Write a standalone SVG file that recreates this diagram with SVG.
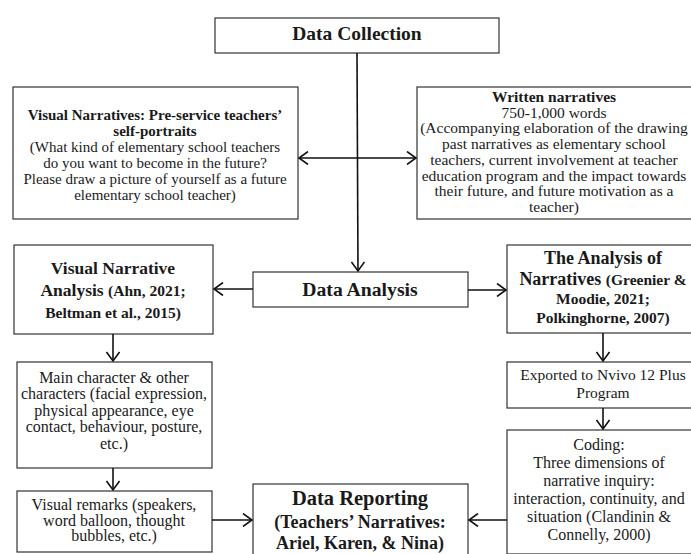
<svg xmlns="http://www.w3.org/2000/svg" width="691" height="554" viewBox="0 0 691 554">
<style>
.box{fill:#fff;stroke:#333;stroke-width:1.2}
.t{font-family:"Liberation Serif","DejaVu Serif",serif;font-size:15px;fill:#1a1a1a;text-anchor:middle}
.b{font-weight:bold}
.c{fill:none;stroke:#111;stroke-width:1.6}
</style>
<defs>
<marker id="ah" markerUnits="userSpaceOnUse" markerWidth="14" markerHeight="14" viewBox="0 0 14 14" refX="12" refY="7" orient="auto-start-reverse">
<path d="M3,0.5 L12,7 L3,13.5" fill="none" stroke="#111" stroke-width="1.6"/>
</marker>
</defs>
<rect width="691" height="554" fill="#fff"/>
<g id="data-collection">
<rect class="box" x="215" y="18" width="284" height="35"/>
<text class="t b" x="357" y="40" style="font-size:19.5px">Data Collection</text>
</g>
<g id="visual-narratives">
<rect class="box" x="13" y="87" width="285" height="132"/>
<text class="t" x="155" y="120"><tspan class="b">Visual Narratives: Pre-service teachers’</tspan><tspan class="b" x="155" dy="16">self-portraits</tspan><tspan x="155" dy="16">(What kind of elementary school teachers</tspan><tspan x="155" dy="16">do you want to become in the future?</tspan><tspan x="155" dy="16">Please draw a picture of yourself as a future</tspan><tspan x="155" dy="16">elementary school teacher)</tspan></text>
</g>
<g id="written-narratives">
<rect class="box" x="417" y="87" width="276" height="132"/>
<text class="t" x="554" y="102" style="font-size:15.5px"><tspan class="b">Written narratives</tspan><tspan x="554" dy="15.7">750-1,000 words</tspan><tspan x="554" dy="15.7">(Accompanying elaboration of the drawing</tspan><tspan x="554" dy="15.7">past narratives as elementary school</tspan><tspan x="554" dy="15.7">teachers, current involvement at teacher</tspan><tspan x="554" dy="15.7">education program and the impact towards</tspan><tspan x="554" dy="15.7">their future, and future motivation as a</tspan><tspan x="554" dy="15.7">teacher)</tspan></text>
</g>
<g id="data-analysis">
<rect class="box" x="253" y="272" width="215" height="35"/>
<text class="t b" x="360" y="296" style="font-size:19.7px">Data Analysis</text>
</g>
<g id="visual-narrative-analysis">
<rect class="box" x="14" y="245" width="199" height="89"/>
<text class="t b" x="113" y="274" style="font-size:17.5px"><tspan>Visual Narrative</tspan><tspan x="113" dy="22">Analysis <tspan style="font-size:15.5px">(Ahn, 2021;</tspan></tspan><tspan x="113" dy="22" style="font-size:15.5px">Beltman et al., 2015)</tspan></text>
</g>
<g id="analysis-of-narratives">
<rect class="box" x="507" y="245" width="192" height="88"/>
<text class="t b" x="603" y="264" style="font-size:18px"><tspan>The Analysis of</tspan><tspan x="603" dy="21">Narratives <tspan style="font-size:15.5px">(Greenier &amp;</tspan></tspan><tspan x="603" dy="19" style="font-size:15.5px">Moodie, 2021;</tspan><tspan x="603" dy="19" style="font-size:15.5px">Polkinghorne, 2007)</tspan></text>
</g>
<g id="main-character">
<rect class="box" x="17" y="362" width="195" height="106"/>
<text class="t" x="114" y="383" style="font-size:16px"><tspan>Main character &amp; other</tspan><tspan x="114" dy="16.4">characters (facial expression,</tspan><tspan x="114" dy="16.4">physical appearance, eye</tspan><tspan x="114" dy="16.4">contact, behaviour, posture,</tspan><tspan x="114" dy="16.4">etc.)</tspan></text>
</g>
<g id="visual-remarks">
<rect class="box" x="17" y="491" width="195" height="61"/>
<text class="t" x="114" y="510" style="font-size:16px"><tspan>Visual remarks (speakers,</tspan><tspan x="114" dy="15.7">word balloon, thought</tspan><tspan x="114" dy="15.7">bubbles, etc.)</tspan></text>
</g>
<g id="exported">
<rect class="box" x="507" y="362" width="190" height="46"/>
<text class="t" x="603" y="380" style="font-size:15.5px"><tspan>Exported to Nvivo 12 Plus</tspan><tspan x="603" dy="18">Program</tspan></text>
</g>
<g id="coding">
<rect class="box" x="507" y="430" width="190" height="124"/>
<text class="t" x="599" y="450" style="font-size:16px"><tspan>Coding:</tspan><tspan x="599" dy="18">Three dimensions of</tspan><tspan x="599" dy="18">narrative inquiry:</tspan><tspan x="599" dy="18">interaction, continuity, and</tspan><tspan x="599" dy="18">situation (Clandinin &amp;</tspan><tspan x="599" dy="18">Connelly, 2000)</tspan></text>
</g>
<g id="data-reporting">
<rect class="box" x="253" y="484" width="215" height="76"/>
<text class="t b" x="360" y="505" style="font-size:20.5px"><tspan>Data Reporting</tspan><tspan x="360" dy="22.5" style="font-size:18px">(Teachers’ Narratives:</tspan><tspan x="360" dy="21" style="font-size:18px">Ariel, Karen, &amp; Nina)</tspan></text>
</g>
<g id="connectors">
<path class="c" d="M357,53 L358,271" marker-end="url(#ah)"/>
<path class="c" d="M299,158 L416,158" marker-start="url(#ah)" marker-end="url(#ah)"/>
<path class="c" d="M253,289 L214,289" marker-end="url(#ah)"/>
<path class="c" d="M468,290 L506,290" marker-end="url(#ah)"/>
<path class="c" d="M113,334 L113,361" marker-end="url(#ah)"/>
<path class="c" d="M113,468 L113,490" marker-end="url(#ah)"/>
<path class="c" d="M603,333 L603,361" marker-end="url(#ah)"/>
<path class="c" d="M603,408 L603,429" marker-end="url(#ah)"/>
<path class="c" d="M212,520 L252,520" marker-end="url(#ah)"/>
<path class="c" d="M507,520 L469,520" marker-end="url(#ah)"/>
</g>
</svg>
